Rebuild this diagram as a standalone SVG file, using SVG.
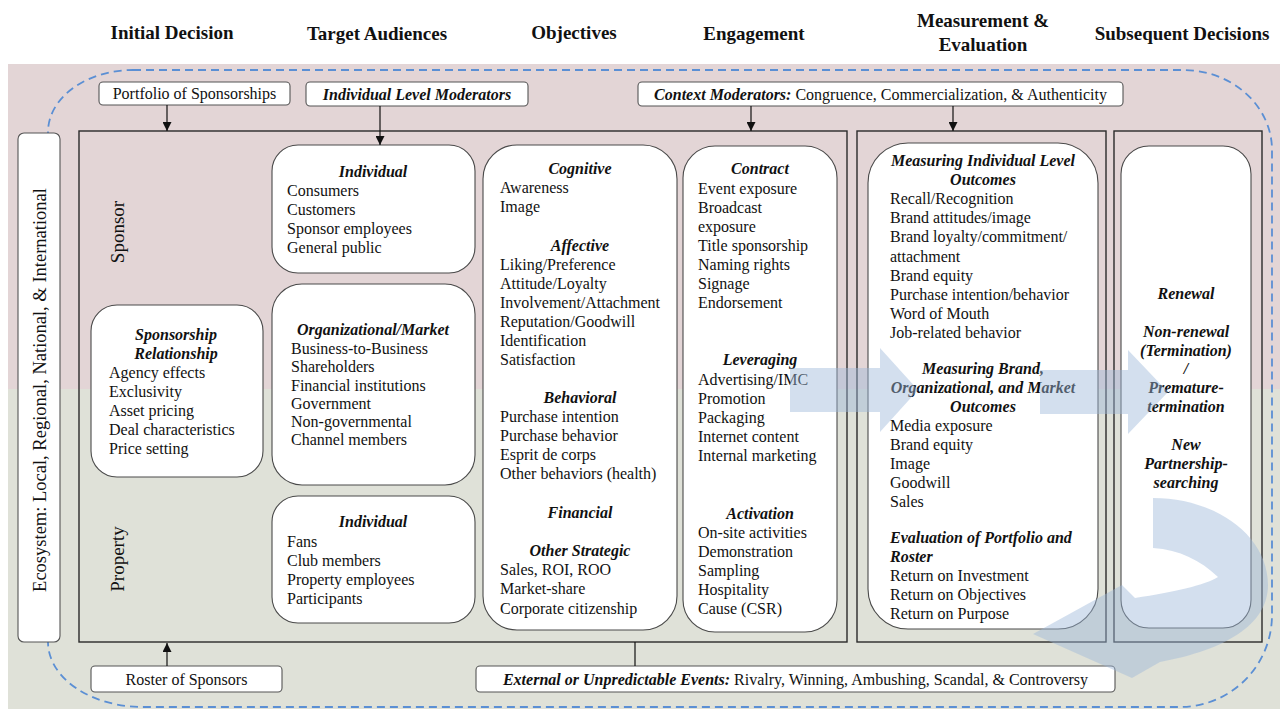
<svg xmlns="http://www.w3.org/2000/svg" width="1283" height="711" viewBox="0 0 1283 711">
<defs>
<style>
text{font-family:"Liberation Serif","Times New Roman",serif;fill:#111;font-size:16px}
.hd{font-size:19px;font-weight:bold;text-anchor:middle}
.bi{font-weight:bold;font-style:italic}
.c{text-anchor:middle}
.box{fill:#fff;stroke:#4a4a4a;stroke-width:1.1}
.lbl{fill:#fff;stroke:#555;stroke-width:1.1}
.frame{fill:none;stroke:#2a2a2a;stroke-width:1.4}
.ln{stroke:#111;stroke-width:1.2;fill:none}
.blue{fill:#9db7da;fill-opacity:0.45}
</style>
<marker id="ah" viewBox="0 0 10 10" refX="10" refY="5" markerWidth="9" markerHeight="9" markerUnits="userSpaceOnUse" orient="auto">
<path d="M0,0 L10,5 L0,10 z" fill="#111"/>
</marker>
</defs>

<!-- background bands -->
<rect x="8" y="64" width="1272" height="325" fill="#e3d5d6"/>
<rect x="8" y="389" width="1272" height="320" fill="#dfe1d8"/>

<!-- column headers -->
<g id="headers">
<text class="hd" x="172" y="39">Initial Decision</text>
<text class="hd" x="377" y="40">Target Audiences</text>
<text class="hd" x="574" y="39">Objectives</text>
<text class="hd" x="754" y="40">Engagement</text>
<text class="hd" x="983" y="27">Measurement &amp;</text>
<text class="hd" x="983" y="51">Evaluation</text>
<text class="hd" x="1182" y="40">Subsequent Decisions</text>
</g>

<!-- dashed ecosystem loop -->
<path d="M133,70 L1183,70 A89,80 0 0 1 1272,150 L1272,615 A92,92 0 0 1 1180,707 L143,707 A95,65 0 0 1 48,642 L48,132 A85,62 0 0 1 133,70 Z" fill="none" stroke="#5b8fd4" stroke-width="1.8" stroke-dasharray="8 5"/>

<!-- frames -->
<rect x="79" y="131" width="768" height="511" class="frame"/>
<rect x="857" y="131" width="249" height="511" class="frame" stroke="#555"/>
<rect x="1114" y="131" width="148" height="511" class="frame"/>

<g id="ecosystem">
<rect x="18" y="133" width="42" height="509" rx="6" class="lbl"/>
<text transform="translate(46,390) rotate(-90)" class="c" style="font-size:18.5px">Ecosystem: Local, Regional, National, &amp; International</text>
</g>

<g id="sponsor-label"><text transform="translate(124,232) rotate(-90)" class="c" style="font-size:19px">Sponsor</text></g>
<g id="property-label"><text transform="translate(124,559) rotate(-90)" class="c" style="font-size:19px">Property</text></g>

<g id="portfolio">
<rect x="99" y="82" width="191" height="23" rx="4" class="lbl"/>
<text x="194.5" y="99" class="c">Portfolio of Sponsorships</text>
</g>
<g id="indiv-moderators">
<rect x="306" y="82" width="222" height="24" rx="4" class="lbl"/>
<text x="417" y="99.5" class="c bi">Individual Level Moderators</text>
</g>
<g id="context-moderators">
<rect x="638" y="82" width="485" height="24" rx="4" class="lbl"/>
<text x="880.5" y="99.5" class="c"><tspan class="bi">Context Moderators:</tspan> Congruence, Commercialization, &amp; Authenticity</text>
</g>
<g id="roster">
<rect x="91" y="666" width="191" height="26" rx="4" class="lbl"/>
<text x="186.5" y="685" class="c">Roster of Sponsors</text>
</g>
<g id="external-events">
<rect x="476" y="666" width="639" height="26" rx="4" class="lbl"/>
<text x="795.5" y="685" class="c"><tspan class="bi">External or Unpredictable Events:</tspan> Rivalry, Winning, Ambushing, Scandal, &amp; Controversy</text>
</g>

<g id="sponsorship-relationship">
<rect x="91" y="305" width="172" height="172" rx="26" class="box"/>
<text x="176" y="340" class="c bi">Sponsorship</text>
<text x="176" y="359" class="c bi">Relationship</text>
<text x="109" y="378">Agency effects</text>
<text x="109" y="397">Exclusivity</text>
<text x="109" y="416">Asset pricing</text>
<text x="109" y="435">Deal characteristics</text>
<text x="109" y="454">Price setting</text>
</g>

<g id="sponsor-individual">
<rect x="272" y="145" width="203" height="128" rx="26" class="box"/>
<text x="373" y="177" class="c bi">Individual</text>
<text x="287" y="196">Consumers</text>
<text x="287" y="215">Customers</text>
<text x="287" y="234">Sponsor employees</text>
<text x="287" y="253">General public</text>
</g>

<g id="org-market">
<rect x="272" y="284" width="203" height="201" rx="30" class="box"/>
<text x="373" y="335" class="c bi">Organizational/Market</text>
<text x="291" y="354">Business-to-Business</text>
<text x="291" y="372">Shareholders</text>
<text x="291" y="391">Financial institutions</text>
<text x="291" y="409">Government</text>
<text x="291" y="427">Non-governmental</text>
<text x="291" y="445">Channel members</text>
</g>

<g id="property-individual">
<rect x="272" y="496" width="203" height="127" rx="26" class="box"/>
<text x="373" y="527" class="c bi">Individual</text>
<text x="287" y="547">Fans</text>
<text x="287" y="566">Club members</text>
<text x="287" y="585">Property employees</text>
<text x="287" y="604">Participants</text>
</g>

<g id="objectives">
<rect x="483" y="145" width="194" height="485" rx="34" class="box"/>
<text x="580" y="174" class="c bi">Cognitive</text>
<text x="500" y="193">Awareness</text>
<text x="500" y="212">Image</text>
<text x="580" y="251" class="c bi">Affective</text>
<text x="500" y="270">Liking/Preference</text>
<text x="500" y="289">Attitude/Loyalty</text>
<text x="500" y="308">Involvement/Attachment</text>
<text x="500" y="327">Reputation/Goodwill</text>
<text x="500" y="346">Identification</text>
<text x="500" y="365">Satisfaction</text>
<text x="580" y="403" class="c bi">Behavioral</text>
<text x="500" y="422">Purchase intention</text>
<text x="500" y="441">Purchase behavior</text>
<text x="500" y="460">Esprit de corps</text>
<text x="500" y="479">Other behaviors (health)</text>
<text x="580" y="518" class="c bi">Financial</text>
<text x="580" y="556" class="c bi">Other Strategic</text>
<text x="500" y="575">Sales, ROI, ROO</text>
<text x="500" y="594">Market-share</text>
<text x="500" y="614">Corporate citizenship</text>
</g>

<g id="engagement">
<rect x="683" y="146" width="154" height="486" rx="32" class="box"/>
<text x="760" y="174" class="c bi">Contract</text>
<text x="698" y="194">Event exposure</text>
<text x="698" y="213">Broadcast</text>
<text x="698" y="232">exposure</text>
<text x="698" y="251">Title sponsorship</text>
<text x="698" y="270">Naming rights</text>
<text x="698" y="289">Signage</text>
<text x="698" y="308">Endorsement</text>
<text x="760" y="365" class="c bi">Leveraging</text>
<text x="698" y="385">Advertising/IMC</text>
<text x="698" y="404">Promotion</text>
<text x="698" y="423">Packaging</text>
<text x="698" y="442">Internet content</text>
<text x="698" y="461">Internal marketing</text>
<text x="760" y="519" class="c bi">Activation</text>
<text x="698" y="538">On-site activities</text>
<text x="698" y="557">Demonstration</text>
<text x="698" y="576">Sampling</text>
<text x="698" y="595">Hospitality</text>
<text x="698" y="614">Cause (CSR)</text>
</g>

<g id="measurement">
<rect x="868" y="143" width="230" height="486" rx="40" class="box"/>
<text x="983" y="166" class="c bi">Measuring Individual Level</text>
<text x="983" y="185" class="c bi">Outcomes</text>
<text x="890" y="204">Recall/Recognition</text>
<text x="890" y="223">Brand attitudes/image</text>
<text x="890" y="242">Brand loyalty/commitment/</text>
<text x="890" y="262">attachment</text>
<text x="890" y="281">Brand equity</text>
<text x="890" y="300">Purchase intention/behavior</text>
<text x="890" y="319">Word of Mouth</text>
<text x="890" y="338">Job-related behavior</text>
<text x="983" y="374" class="c bi">Measuring Brand,</text>
<text x="983" y="393" class="c bi">Organizational, and Market</text>
<text x="983" y="412" class="c bi">Outcomes</text>
<text x="890" y="431">Media exposure</text>
<text x="890" y="450">Brand equity</text>
<text x="890" y="469">Image</text>
<text x="890" y="488">Goodwill</text>
<text x="890" y="507">Sales</text>
<text x="890" y="543" class="bi">Evaluation of Portfolio and</text>
<text x="890" y="562" class="bi">Roster</text>
<text x="890" y="581">Return on Investment</text>
<text x="890" y="600">Return on Objectives</text>
<text x="890" y="619">Return on Purpose</text>
</g>

<g id="subsequent">
<rect x="1121" y="146" width="130" height="482" rx="28" class="box"/>
<text x="1186" y="299" class="c bi">Renewal</text>
<text x="1186" y="337" class="c bi">Non-renewal</text>
<text x="1186" y="356" class="c bi">(Termination)</text>
<text x="1186" y="374" class="c bi">/</text>
<text x="1186" y="393" class="c bi">Premature-</text>
<text x="1186" y="412" class="c bi">termination</text>
<text x="1186" y="450" class="c bi">New</text>
<text x="1186" y="469" class="c bi">Partnership-</text>
<text x="1186" y="488" class="c bi">searching</text>
</g>

<g id="connectors">
<line x1="167" y1="105" x2="167" y2="131" class="ln" marker-end="url(#ah)"/>
<line x1="380" y1="106" x2="380" y2="145" class="ln" marker-end="url(#ah)"/>
<line x1="751" y1="106" x2="751" y2="131" class="ln" marker-end="url(#ah)"/>
<line x1="953" y1="106" x2="953" y2="131" class="ln" marker-end="url(#ah)"/>
<line x1="167" y1="666" x2="167" y2="643" class="ln" marker-end="url(#ah)"/>
<line x1="635" y1="642" x2="635" y2="666" class="ln"/>
</g>

<g id="flow-arrows">
<path class="blue" d="M790,368 L880,368 L880,348 L918,390 L880,432 L880,412 L790,412 Z"/>
<path class="blue" d="M1040,370 L1128,370 L1128,350 L1168,392 L1128,434 L1128,414 L1040,414 Z"/>
<path class="blue" d="M1153,498 C1215,498 1268,535 1268,585 C1268,625 1225,650 1160,662 L1132,678 L1033,634 L1122,585 L1135,598 C1175,592 1205,585 1218,577 C1200,560 1180,550 1153,548 Z"/>
</g>
</svg>
